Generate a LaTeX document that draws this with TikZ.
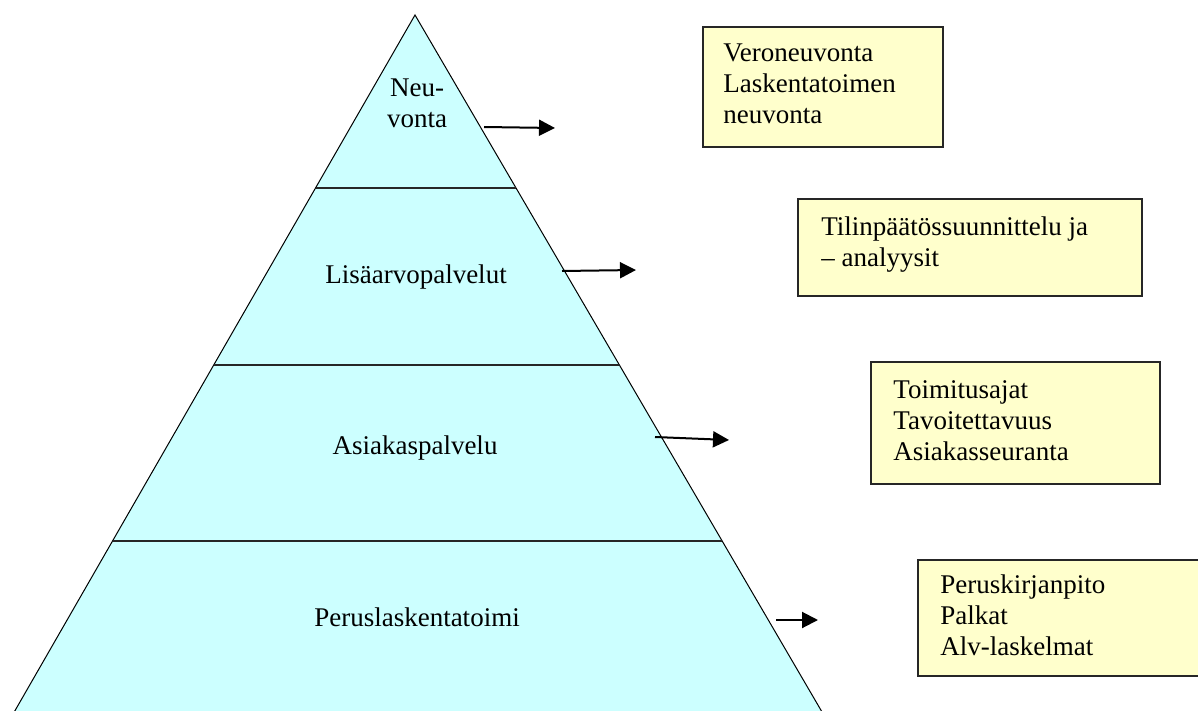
\documentclass[tikz,border=0pt]{standalone}
\usepackage{fontspec}
\setmainfont{Liberation Serif}
\usetikzlibrary{calc,arrows.meta}
\definecolor{layercyan}{HTML}{CCFFFF}
\definecolor{noteyellow}{HTML}{FFFFCC}
\begin{document}
\begin{tikzpicture}[x=0.5pt,y=-0.5pt,
  every node/.style={font=\fontsize{13.5}{15.5}\selectfont, inner sep=0pt},
  tri/.style={fill=layercyan, draw=black, line width=0.5pt},
  divider/.style={draw=black!85, line width=1.1pt},
  notebox/.style={draw=black!85, fill=noteyellow, line width=1pt},
  label/.style={anchor=base},
  notetext/.style={anchor=base west},
  conn/.style={line width=1pt, -{Triangle[length=8pt,width=8pt]}}]
\useasboundingbox (0,0) rectangle (1198,711);
% pyramid
\coordinate (apex) at (415,15);
\coordinate (bl) at (9.6,720);
\coordinate (br) at (826.7,720);
\draw[tri] (apex) -- (bl) -- (br) -- cycle;
\coordinate (d1l) at ($(apex)!0.2454!(bl)$);
\coordinate (d1r) at ($(apex)!0.2454!(br)$);
\coordinate (d2l) at ($(apex)!0.4965!(bl)$);
\coordinate (d2r) at ($(apex)!0.4965!(br)$);
\coordinate (d3l) at ($(apex)!0.7461!(bl)$);
\coordinate (d3r) at ($(apex)!0.7461!(br)$);
\draw[divider] (d1l) -- (d1r);
\draw[divider] (d2l) -- (d2r);
\draw[divider] (d3l) -- (d3r);
% layer labels
\node[label] (l1) at (417,97) {\begin{tabular}[t]{@{}c@{}}Neu-\\vonta\end{tabular}};
\node[label] (l2) at (416,283) {Lisäarvopalvelut};
\node[label] (l3) at (415,454) {Asiakaspalvelu};
\node[label] (l4) at (417,626) {Peruslaskentatoimi};
% note boxes
\path[notebox] (703,27) rectangle (943,147);
\path[notebox] (798,199) rectangle (1142,296);
\path[notebox] (871,362) rectangle (1160,484);
\path[notebox] (918,560) rectangle (1210,676);
\node[notetext] (n1) at (723,62) {\begin{tabular}[t]{@{}l@{}}Veroneuvonta\\Laskentatoimen\\neuvonta\end{tabular}};
\node[notetext] (n2) at (821,235) {\begin{tabular}[t]{@{}l@{}}Tilinpäätössuunnittelu ja\\– analyysit\end{tabular}};
\node[notetext] (n3) at (893,398) {\begin{tabular}[t]{@{}l@{}}Toimitusajat\\Tavoitettavuus\\Asiakasseuranta\end{tabular}};
\node[notetext] (n4) at (940,593) {\begin{tabular}[t]{@{}l@{}}Peruskirjanpito\\Palkat\\Alv-laskelmat\end{tabular}};
% arrows
\coordinate (a1s) at (484,127); \coordinate (a1e) at (555,128);
\coordinate (a2s) at (562,271); \coordinate (a2e) at (636,270);
\coordinate (a3s) at (655,437); \coordinate (a3e) at (729,440);
\coordinate (a4s) at (776,620); \coordinate (a4e) at (818,620);
\draw[conn] (a1s) -- (a1e);
\draw[conn] (a2s) -- (a2e);
\draw[conn] (a3s) -- (a3e);
\draw[conn] (a4s) -- (a4e);
\end{tikzpicture}
\end{document}
